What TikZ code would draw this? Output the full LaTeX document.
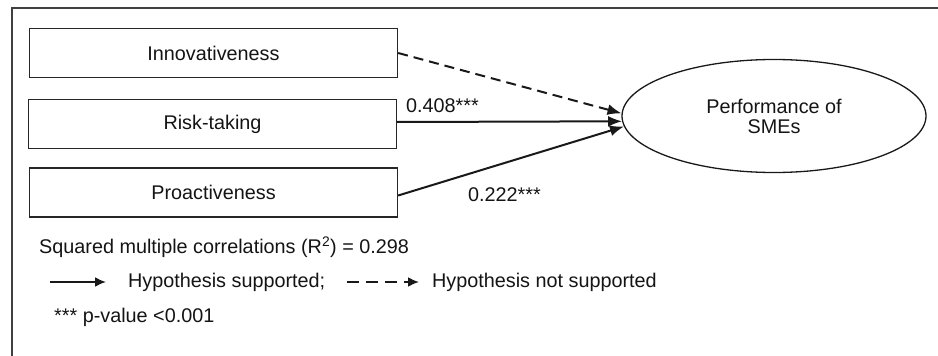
\documentclass[tikz,border=0pt]{standalone}
\usepackage{fontspec}
\setmainfont{Liberation Sans}
\usetikzlibrary{shapes.geometric,arrows.meta,calc}
\begin{document}
\begin{tikzpicture}[x=1pt,y=-1pt,
  every node/.style={font=\fontsize{19.8}{23}\selectfont, text=black!92},
  box/.style={draw=black!85, line width=1.3pt, minimum width=368pt, minimum height=49pt, inner sep=0pt},
  frame/.style={draw=black!75, line width=2pt},
  arr/.style={line width=2pt, draw=black!90, -{Latex[length=14pt,width=11pt]}},
  darr/.style={arr, dash pattern=on 10pt off 6pt},
  larr/.style={line width=2pt, draw=black!90, -{Latex[length=11pt,width=10pt]}},
  lab/.style={inner sep=0pt, anchor=west}
]
\useasboundingbox (0,0) rectangle (938,356);
\draw[frame] (12,356) -- (12,8) -- (938,8);

\node[box] (inn) at (213.5,53) {Innovativeness};
\node[box] (risk) at (212.5,124) {Risk-taking};
\node[box] (pro) at (213.5,192.5) {Proactiveness};

\node[ellipse, draw=black!90, line width=1.3pt, minimum width=304pt, minimum height=113pt, inner sep=0pt, align=center] (perf) at (774,116) {Performance of\\[-3pt]SMEs};

\draw[darr] (inn.east) -- (perf.179);
\draw[arr] (risk.east |- 0,122) -- (perf.182);
\draw[arr] ($(pro.east)+(0,3)$) -- (perf.184);

\node[lab] (l408) at (406,106) {0.408***};
\node[lab] (l222) at (468,195) {0.222***};

\node[lab] (r2) at (39,247) {Squared multiple correlations (R\textsuperscript{2}) = 0.298};

\coordinate (s1) at (50,282);
\coordinate (e1) at (106,282);
\draw[larr] (s1) -- (e1);
\node[lab] (hs) at (128,282) {Hypothesis supported;};

\coordinate (s2) at (347,282);
\coordinate (e2) at (419,282);
\draw[larr, dash pattern=on 12pt off 7pt] (s2) -- (e2);
\node[lab] (hn) at (432,282) {Hypothesis not supported};

\node[lab] (pv) at (54,317) {*** p-value <0.001};
\end{tikzpicture}
\end{document}
